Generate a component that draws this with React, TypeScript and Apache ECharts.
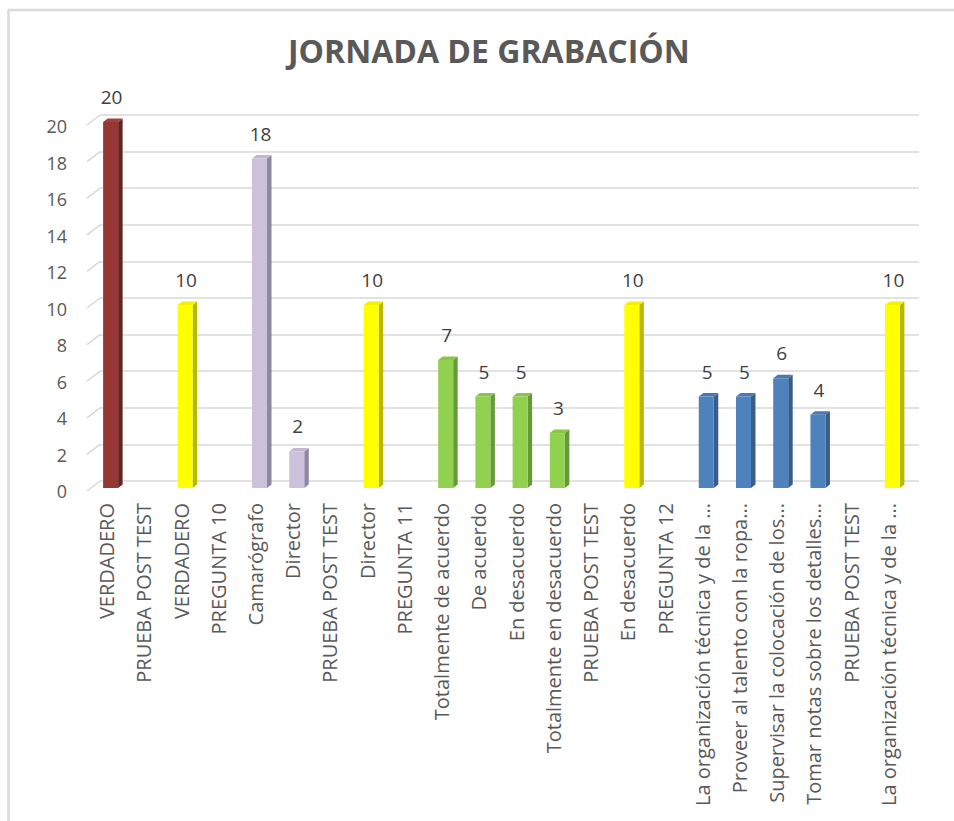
import React, { useEffect, useRef } from "react";
import * as echarts from "echarts";

const TITLE = "JORNADA DE GRABACIÓN";

const categories: string[] = [
  "VERDADERO",
  "PRUEBA POST TEST",
  "VERDADERO",
  "PREGUNTA 10",
  "Camarógrafo",
  "Director",
  "PRUEBA POST TEST",
  "Director",
  "PREGUNTA 11",
  "Totalmente de acuerdo",
  "De acuerdo",
  "En desacuerdo",
  "Totalmente en desacuerdo",
  "PRUEBA POST TEST",
  "En desacuerdo",
  "PREGUNTA 12",
  "La organización técnica y de la ...",
  "Proveer al talento con la ropa...",
  "Supervisar la colocación de los...",
  "Tomar notas sobre los detalles...",
  "PRUEBA POST TEST",
  "La organización técnica y de la ...",
];

const values: (number | null)[] = [
  20, null, 10, null, 18, 2, null, 10, null, 7, 5, 5, 3, null, 10, null, 5, 5, 6, 4, null, 10,
];

// colour group of each category
const groups: string[] = [
  "p9", "", "post", "", "p10", "p10", "", "post", "", "p11", "p11", "p11", "p11", "", "post", "", "p12", "p12", "p12", "p12", "", "post",
];

const yTicks: number[] = [0, 2, 4, 6, 8, 10, 12, 14, 16, 18, 20];

const palette: Record<string, { front: string; side: string; top: string }> = {
  p9: { front: "#953735", side: "#632423", top: "#a4403e" },
  post: { front: "#FFFF00", side: "#b8b800", top: "#f2f200" },
  p10: { front: "#CCC1DA", side: "#8e87a0", top: "#c2b7d2" },
  p11: { front: "#92D050", side: "#65993a", top: "#88c646" },
  p12: { front: "#4F81BD", side: "#375d8a", top: "#4a79b2" },
};

const FONT = "'Open Sans', 'DejaVu Sans', sans-serif";

export default function App() {
  const ref = useRef<HTMLDivElement>(null);

  useEffect(() => {
    if (!ref.current) return;
    const chart = echarts.init(ref.current, null, { renderer: "svg" });

    const barData = values
      .map((v, i) => (v == null ? null : [i, v]))
      .filter((d) => d != null) as number[][];

    const option: any = {
      animation: false,
      backgroundColor: "#ffffff",
      textStyle: { fontFamily: FONT },
      title: {
        text: TITLE,
        left: 283,
        top: 29,
        padding: 5,
        textStyle: {
          fontFamily: FONT,
          fontSize: 32,
          fontWeight: "bold",
          color: "#595959",
        },
      },
      graphic: [
        {
          type: "line",
          shape: { x1: 8, y1: 10, x2: 954, y2: 10 },
          style: { stroke: "#d9d9d9", lineWidth: 2.5 },
          silent: true,
        },
        {
          type: "line",
          shape: { x1: 8.5, y1: 10, x2: 8.5, y2: 821 },
          style: { stroke: "#d9d9d9", lineWidth: 2.5 },
          silent: true,
        },
      ],
      grid: [
        // back wall
        { left: 100, right: 35, top: 115, bottom: 340 },
        // front plane (bars)
        { left: 92, right: 43, top: 122, bottom: 333 },
        // labels plane
        { left: 88, right: 47, top: 126, bottom: 330 },
      ],
      xAxis: [
        { gridIndex: 0, type: "category", data: categories, show: false },
        { gridIndex: 1, type: "category", data: categories, show: false },
        {
          gridIndex: 2,
          type: "category",
          data: categories,
          axisLine: { show: false },
          axisTick: { show: false },
          axisLabel: {
            interval: 0,
            rotate: 90,
            margin: 12,
            fontSize: 20,
            color: "#595959",
            fontFamily: FONT,
          },
        },
      ],
      yAxis: [
        {
          gridIndex: 0,
          type: "value",
          min: 0,
          max: 20,
          interval: 2,
          axisLabel: { show: false },
          axisLine: { show: false },
          axisTick: { show: false },
          splitLine: { show: true, lineStyle: { color: "#d9d9d9", width: 1.5 } },
        },
        {
          gridIndex: 1,
          type: "value",
          min: 0,
          max: 20,
          interval: 2,
          show: false,
          splitLine: { show: false },
        },
        {
          gridIndex: 2,
          type: "value",
          min: 0,
          max: 20,
          interval: 2,
          axisLine: { show: false },
          axisTick: { show: false },
          splitLine: { show: false },
          axisLabel: {
            margin: 21,
            fontSize: 18,
            color: "#595959",
            fontFamily: FONT,
          },
        },
      ],
      series: [
        {
          type: "custom",
          name: "diagonales",
          xAxisIndex: 0,
          yAxisIndex: 0,
          clip: false,
          silent: true,
          data: yTicks.map((t) => [0, t]),
          encode: { x: 0, y: 1 },
          renderItem: (params: any, api: any) => {
            const cs = params.coordSys;
            const p = api.coord([0, api.value(1)]);
            return {
              type: "line",
              shape: { x1: cs.x - 13, y1: p[1] + 10, x2: cs.x, y2: p[1] },
              style: { stroke: "#d9d9d9", lineWidth: 1.5 },
            };
          },
        },
        {
          type: "custom",
          name: "JORNADA DE GRABACIÓN",
          xAxisIndex: 1,
          yAxisIndex: 1,
          clip: false,
          data: barData,
          encode: { x: 0, y: 1 },
          renderItem: (params: any, api: any) => {
            const idx = api.value(0);
            const v = api.value(1);
            const col = palette[groups[idx]] || palette.post;
            const top = api.coord([idx, v]);
            const base = api.coord([idx, 0]);
            const bw = 15;
            const dx = 4.5;
            const dy = 3.5;
            const x0 = top[0] - bw / 2;
            const x1 = x0 + bw;
            return {
              type: "group",
              children: [
                {
                  type: "polygon",
                  shape: {
                    points: [
                      [x1, top[1]],
                      [x1 + dx, top[1] - dy],
                      [x1 + dx, base[1] - dy],
                      [x1, base[1]],
                    ],
                  },
                  style: { fill: col.side },
                },
                {
                  type: "polygon",
                  shape: {
                    points: [
                      [x0, top[1]],
                      [x0 + dx, top[1] - dy],
                      [x1 + dx, top[1] - dy],
                      [x1, top[1]],
                    ],
                  },
                  style: { fill: col.top },
                },
                {
                  type: "rect",
                  shape: { x: x0, y: top[1], width: bw, height: base[1] - top[1] },
                  style: { fill: col.front },
                },
                {
                  type: "text",
                  x: top[0] + 1,
                  y: top[1] - dy - 12,
                  style: {
                    text: String(v),
                    align: "center",
                    verticalAlign: "bottom",
                    fontSize: 19,
                    fontFamily: FONT,
                    fill: "#404040",
                  },
                },
              ],
            };
          },
        },
      ],
    };

    chart.setOption(option);
    return () => chart.dispose();
  }, []);

  return (
    <div
      ref={ref}
      style={{ position: "fixed", left: 0, top: 0, width: 954, height: 821 }}
    />
  );
}
